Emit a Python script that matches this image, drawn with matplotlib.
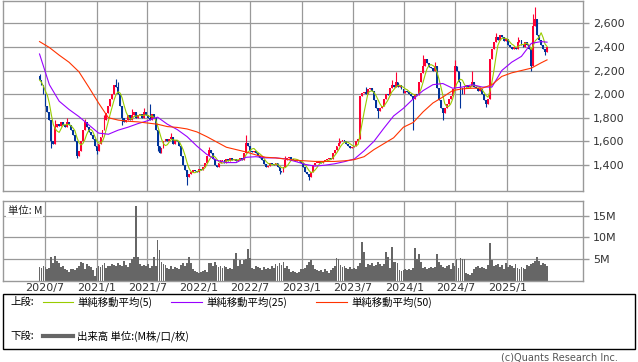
import matplotlib
matplotlib.use('Agg')
import matplotlib.pyplot as plt
import matplotlib.dates as mdates
import numpy as np
import pandas as pd
from matplotlib.lines import Line2D
from matplotlib.patches import Rectangle

# ---------------- data (weekly) ----------------
start_date = '2020-06-12'
first_open = 2150
closes = [
    2120, 2080, 2000, 1900, 1850, 1780, 1600, 1580, 1720, 1750,
    1730, 1760, 1740, 1720, 1760, 1740, 1700, 1650, 1600, 1480,
    1520, 1600, 1700, 1760, 1720, 1680, 1650, 1620, 1560, 1520,
    1580, 1640, 1700, 1780, 1840, 1900, 1960, 2000, 2080, 2060,
    2000, 1900, 1800, 1760, 1780, 1820, 1780, 1820, 1850, 1800,
    1820, 1830, 1800, 1850, 1820, 1800, 1780, 1830, 1800, 1700,
    1560, 1500, 1540, 1600, 1620, 1600, 1620, 1640, 1580, 1610,
    1600, 1560, 1480, 1400, 1360, 1300, 1320, 1340, 1360, 1350,
    1340, 1370, 1360, 1380, 1420, 1480, 1530, 1500, 1450, 1400,
    1380, 1420, 1440, 1440, 1420, 1450, 1430, 1460, 1440, 1450,
    1430, 1440, 1460, 1440, 1500, 1590, 1560, 1520, 1510, 1520,
    1500, 1480, 1460, 1440, 1410, 1380, 1390, 1420, 1410, 1400,
    1420, 1380, 1350, 1340, 1380, 1440, 1460, 1470, 1450, 1440,
    1430, 1440, 1430, 1420, 1380, 1340, 1320, 1300, 1340, 1400,
    1420, 1420, 1430, 1420, 1430, 1440, 1450, 1460, 1450, 1500,
    1530, 1560, 1590, 1600, 1610, 1600, 1580, 1560, 1540, 1550,
    1560, 1600, 1620, 1980, 2010, 2020, 2000, 2040, 2050, 2030,
    1950, 1880, 1860, 1880, 1900, 1960, 2000, 1990, 2050, 2080,
    2060, 2100, 2060, 2080, 2040, 2010, 2030, 2020, 2000, 1980,
    1960, 2000, 1990, 2100, 2180, 2240, 2300, 2260, 2230, 2220,
    2200, 2240, 2050, 1950, 1880, 1840, 1880, 1920, 1960, 1980,
    2040, 2240, 2200, 2100, 2050, 2000, 2060, 2080, 2060, 2070,
    2100, 2060, 2050, 2030, 2040, 2000, 1950, 1920, 1960, 2300,
    2380, 2440, 2480, 2460, 2500, 2480, 2450, 2470, 2420, 2400,
    2380, 2400, 2380, 2440, 2460, 2420, 2400, 2440, 2420, 2380,
    2240, 2580, 2640, 2500, 2460, 2420, 2380, 2360, 2400,
]
high_wicks = {0: 2170, 8: 1780, 14: 1800, 23: 1790, 33: 1820, 39: 2130, 40: 2100,
              47: 1870, 53: 1880, 56: 1920, 67: 1670, 86: 1550, 105: 1650,
              125: 1480, 152: 1630, 166: 2060, 179: 2120, 181: 2190, 195: 2330,
              201: 2270, 211: 2290, 220: 2200, 232: 2520, 243: 2480,
              251: 2680, 252: 2740}
low_wicks = {6: 1540, 19: 1460, 29: 1490, 42: 1740, 60: 1520, 75: 1230,
             122: 1320, 137: 1270, 172: 1800, 190: 1700, 205: 1780,
             214: 1880, 227: 1890, 250: 2200, 257: 2330}
volumes = [  # millions
    3.2, 3.0, 3.3, 3.1, 2.8, 3.0, 5.5, 4.0, 5.8, 4.5,
    4.0, 3.2, 3.5, 2.8, 2.5, 2.0, 2.6, 2.8, 2.4, 3.0,
    3.5, 4.4, 4.0, 2.6, 3.8, 3.4, 3.2, 2.5, 1.2, 3.0,
    3.5, 3.2, 3.6, 4.2, 3.0, 3.5, 3.4, 3.8, 3.6, 3.3,
    4.0, 3.6, 3.3, 4.5, 3.6, 3.2, 4.0, 5.0, 5.5, 17.3,
    5.5, 3.8, 3.5, 3.6, 3.4, 3.8, 3.0, 3.5, 5.5, 3.5,
    9.3, 7.1, 4.4, 3.8, 3.6, 3.0, 2.8, 3.4, 2.6, 3.2,
    3.0, 2.8, 3.6, 4.0, 3.5, 4.0, 5.5, 4.0, 2.6, 2.2,
    2.0, 1.8, 2.0, 2.2, 2.4, 2.0, 4.0, 4.2, 3.4, 4.4,
    3.6, 3.2, 3.4, 3.0, 3.4, 3.2, 2.8, 3.0, 2.6, 5.0,
    6.3, 3.5, 4.8, 3.8, 4.8, 5.0, 7.4, 5.2, 3.0, 2.8,
    3.4, 3.2, 3.0, 2.4, 3.2, 2.8, 3.0, 2.6, 3.4, 3.0,
    3.8, 3.4, 4.0, 3.6, 4.4, 3.0, 3.4, 2.6, 2.0, 2.2,
    2.0, 1.8, 2.0, 2.6, 2.8, 3.0, 3.6, 4.4, 4.8, 3.6,
    2.6, 2.4, 2.2, 2.4, 2.0, 2.6, 2.2, 1.8, 2.4, 3.0,
    3.4, 5.2, 5.0, 3.6, 3.2, 3.4, 3.0, 2.8, 3.2, 2.6,
    3.0, 2.8, 3.4, 4.0, 9.0, 6.7, 3.2, 3.8, 3.6, 4.0,
    3.4, 3.6, 4.4, 3.8, 3.4, 3.8, 6.6, 5.4, 3.0, 7.8,
    4.4, 4.4, 4.0, 2.4, 2.2, 2.4, 2.6, 2.4, 2.6, 2.4,
    3.0, 7.5, 5.0, 6.1, 4.4, 3.0, 3.2, 2.8, 3.0, 3.2,
    3.0, 3.2, 6.1, 4.4, 3.6, 3.2, 3.0, 3.4, 3.6, 2.8,
    4.2, 3.4, 4.9, 3.0, 5.2, 5.0, 5.0, 1.8, 1.6, 1.4,
    1.8, 2.8, 3.2, 3.4, 3.0, 3.2, 3.0, 2.8, 3.6, 8.7,
    4.8, 3.4, 3.6, 3.8, 3.2, 3.6, 2.6, 4.0, 3.2, 3.6,
    3.4, 3.0, 3.8, 3.0, 2.8, 3.2, 3.0, 2.6, 3.6, 3.4,
    3.8, 4.2, 4.6, 5.4, 4.6, 3.6, 4.0, 3.8, 3.4,
]
ma_weeks = list(range(0, 256, 5)) + [258]
ma25_values = [2340, 2080, 1940, 1870, 1810, 1740, 1670, 1660, 1695, 1720,
               1750, 1775, 1805, 1745, 1700, 1640, 1560, 1490, 1440, 1420,
               1420, 1465, 1470, 1460, 1460, 1452, 1430, 1405, 1390, 1398,
               1410, 1428, 1450, 1520, 1600, 1710, 1815, 1880, 1960, 2030,
               2080, 2090, 2050, 2060, 2080, 2060, 2060, 2200, 2270, 2320,
               2430, 2445, 2440]
ma50_values = [2445, 2395, 2330, 2270, 2190, 2060, 1925, 1800, 1780, 1770,
               1765, 1755, 1745, 1725, 1718, 1705, 1680, 1640, 1595, 1550,
               1530, 1510, 1485, 1465, 1460, 1450, 1440, 1435, 1430, 1430,
               1430, 1435, 1445, 1470, 1530, 1580, 1630, 1720, 1760, 1850,
               1925, 1975, 2030, 2045, 2050, 2050, 2080, 2150, 2180, 2200,
               2220, 2265, 2290]
price_ticks = [1400, 1600, 1800, 2000, 2200, 2400, 2600]
vol_ticks = [5, 10, 15]
vol_tick_labels = ['5M', '10M', '15M']
x_tick_dates = ['2020-07-01', '2021-01-01', '2021-07-01', '2022-01-01', '2022-07-01',
                '2023-01-01', '2023-07-01', '2024-01-01', '2024-07-01', '2025-01-01']
x_tick_labels = ['2020/7', '2021/1', '2021/7', '2022/1', '2022/7',
                 '2023/1', '2023/7', '2024/1', '2024/7', '2025/1']
legend_labels = ['単純移動平均(5)', '単純移動平均(25)', '単純移動平均(50)']
volume_label = '出来高 単位:(M株/口/枚)'

# ---------------- styles ----------------
UP = '#ff0033'
DOWN = '#003399'
C_MA5 = '#99cc00'
C_MA25 = '#9900ff'
C_MA50 = '#ff3300'
GRID = '#999999'
VOLC = '#666666'
CJK = ['Noto Sans CJK JP', 'DejaVu Sans']

W, H = 638, 362
fig = plt.figure(figsize=(W / 100, H / 100), dpi=100)
fig.patch.set_facecolor('white')


def fx(p):
    return p / W


def fy(p):
    return 1 - p / H


dates = pd.date_range(start_date, periods=len(closes), freq='7D')
xd = mdates.date2num(dates)
c = np.array(closes, float)
o = np.concatenate([[first_open], c[:-1]])
hi = np.maximum(o, c)
lo = np.minimum(o, c)
for k, v in high_wicks.items():
    hi[k] = max(hi[k], v)
for k, v in low_wicks.items():
    lo[k] = min(lo[k], v)
up = c >= o
cols = np.where(up, UP, DOWN)
ma5 = pd.Series(c).rolling(5, min_periods=1).mean().values

xlim = (mdates.datestr2num('2020-02-03'), mdates.datestr2num('2025-09-28'))
gx = [mdates.datestr2num(d) for d in x_tick_dates]


def style(ax):
    for s in ax.spines.values():
        s.set_color(GRID)
        s.set_linewidth(1)
    ax.set_xlim(*xlim)
    ax.yaxis.tick_right()
    ax.tick_params(axis='y', length=4, width=1, color=GRID, labelsize=8,
                   labelcolor='#333333', pad=3)
    ax.set_xticks(gx)
    ax.grid(True, color=GRID, linewidth=0.9)
    ax.set_axisbelow(True)


# ---- price panel ----
ax = fig.add_axes([fx(3), fy(190.7), fx(583) - fx(3), (190.7 - 0.5) / H])
style(ax)
ax.set_ylim(1182, 2793)
ax.set_yticks(price_ticks)
ax.set_yticklabels([f'{v:,}' for v in price_ticks])
ax.tick_params(axis='x', length=0, labelbottom=False)
ax.vlines(xd, lo, hi, colors=cols, linewidth=0.8, zorder=2)
bh = np.abs(c - o)
bmin = 10
bottoms = np.where(bh < bmin, (o + c) / 2 - bmin / 2, np.minimum(o, c))
bh = np.maximum(bh, bmin)
ax.bar(xd, bh, bottom=bottoms, width=6.5, color=cols, linewidth=0, zorder=2)
ax.plot(xd, ma5, color=C_MA5, linewidth=0.8, zorder=3)
ax.plot(xd[ma_weeks], ma25_values, color=C_MA25, linewidth=0.8, zorder=3)
ax.plot(xd[ma_weeks], ma50_values, color=C_MA50, linewidth=0.8, zorder=3)

# ---- volume panel ----
av = fig.add_axes([fx(3), fy(280.7), fx(583) - fx(3), (280.7 - 201) / H])
style(av)
av.set_ylim(0, 18.4)
av.set_yticks(vol_ticks)
av.set_yticklabels(vol_tick_labels)
av.set_xticklabels(x_tick_labels)
av.tick_params(axis='x', length=0, labelsize=8, labelcolor='#333333', pad=2)
av.bar(xd, volumes, width=6.5, color=VOLC, linewidth=0, zorder=2)
av.text(0.008, 0.88, '単位: M', transform=av.transAxes, fontsize=7.5,
        family=CJK, va='center', ha='left', color='#222222', zorder=5,
        bbox=dict(facecolor='white', edgecolor='none', pad=1.0))

# ---- legend box ----
fig.add_artist(Rectangle((fx(3), fy(349)), fx(635) - fx(3), (349 - 294) / H,
                         transform=fig.transFigure, fill=False,
                         edgecolor='black', linewidth=1))
r1, r2 = 302, 336
fig.text(fx(10), fy(r1), '上段:', fontsize=7.5, family=CJK, va='center', ha='left')
fig.text(fx(10), fy(r2), '下段:', fontsize=7.5, family=CJK, va='center', ha='left')
for (x0, x1, col, tx, lab) in [(43, 73, C_MA5, 77, legend_labels[0]),
                               (171, 202, C_MA25, 206, legend_labels[1]),
                               (316, 347, C_MA50, 351, legend_labels[2])]:
    fig.add_artist(Line2D([fx(x0), fx(x1)], [fy(r1), fy(r1)], color=col,
                          linewidth=0.8, transform=fig.transFigure))
    fig.text(fx(tx), fy(r1), lab, fontsize=7.5, family=CJK, va='center', ha='left')
fig.add_artist(Line2D([fx(43), fx(73)], [fy(r2), fy(r2)], color=VOLC,
                      linewidth=3, transform=fig.transFigure))
fig.text(fx(77), fy(r2), volume_label, fontsize=7.5, family=CJK, va='center', ha='left')
fig.text(fx(618), fy(357), '(c)Quants Research Inc.', fontsize=7, color='#555555',
         va='center', ha='right')

fig.savefig('out.png', dpi=100, facecolor='white')
